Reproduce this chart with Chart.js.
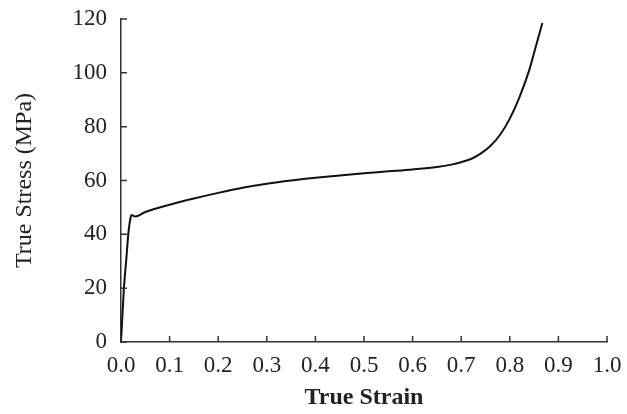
<!DOCTYPE html>
<html>
<head>
<meta charset="utf-8">
<script src="https://cdn.jsdelivr.net/npm/chart.js@4.4.1/dist/chart.umd.min.js"></script>
<style>
  html, body { margin: 0; padding: 0; background: #fff; }
  #box { width: 627px; height: 414px; }
</style>
</head>
<body>
<div id="box"><canvas id="grafico"></canvas></div>
<script>
// datos
const deformacion = [0, 0.006, 0.011, 0.015, 0.019, 0.022, 0.026, 0.029, 0.05, 0.1, 0.15, 0.2, 0.25, 0.3, 0.35, 0.4, 0.45, 0.5, 0.55, 0.6, 0.65, 0.68, 0.7, 0.72, 0.74, 0.76, 0.78, 0.8, 0.82, 0.84, 0.85, 0.867];
const esfuerzo =    [0, 20, 31, 40, 45.5, 47.2, 46.8, 46.6, 48.3, 51, 53.3, 55.4, 57.3, 58.8, 60, 61, 61.9, 62.7, 63.4, 64.1, 65, 65.9, 66.8, 68, 70, 72.8, 77, 83, 91, 101, 107.5, 118.5];

const xTicks = [0, 0.1, 0.2, 0.3, 0.4, 0.5, 0.6, 0.7, 0.8, 0.9, 1.0];
const yTicks = [0, 20, 40, 60, 80, 100, 120];

const puntos = deformacion.map((x, i) => ({ x: x, y: esfuerzo[i] }));

const fuente = "'Liberation Serif', 'DejaVu Serif', serif";
const gris = '#333';

function sinRelleno(s) {
    s.paddingTop = 0; s.paddingBottom = 0; s.paddingLeft = 0; s.paddingRight = 0;
}

// marcas de los ticks hacia dentro del area
const marcasInternas = {
    id: 'marcasInternas',
    afterDraw(c) {
        const g = c.ctx, a = c.chartArea;
        g.save();
        g.strokeStyle = gris;
        g.lineWidth = 1.5;
        g.beginPath();
        xTicks.forEach(v => {
            const px = c.scales.x.getPixelForValue(v);
            g.moveTo(px, a.bottom); g.lineTo(px, a.bottom - 6);
        });
        yTicks.forEach(v => {
            const py = c.scales.y.getPixelForValue(v);
            g.moveTo(a.left, py); g.lineTo(a.left + 6, py);
        });
        g.stroke();
        g.restore();
    }
};

const ctx = document.getElementById('grafico');
const chart = new Chart(ctx, {
    type: 'line',
    data: {
        datasets: [{
            label: 'True Stress',
            data: puntos,
            borderColor: '#111',
            borderWidth: 2,
            pointRadius: 0,
            cubicInterpolationMode: 'monotone',
            fill: false
        }]
    },
    options: {
        responsive: true,
        maintainAspectRatio: false,
        animation: false,
        layout: { padding: { left: 0, right: 20, top: 19, bottom: 0 } },
        plugins: { legend: { display: false }, tooltip: { enabled: false } },
        scales: {
            x: {
                type: 'linear',
                min: 0, max: 1,
                afterBuildTicks: s => { s.ticks = xTicks.map(v => ({ value: v })); },
                afterFit: s => { s.height = 72; sinRelleno(s); },
                border: { display: true, color: gris, width: 1.5 },
                grid: { display: false },
                ticks: {
                    padding: 2,
                    color: '#222',
                    font: { family: fuente, size: 23 },
                    callback: v => v.toFixed(1),
                    maxRotation: 0
                },
                title: {
                    display: true,
                    text: 'True Strain',
                    color: '#222',
                    font: { family: fuente, size: 24, weight: 'bold' },
                    padding: { top: 0, bottom: 2 }
                }
            },
            y: {
                min: 0, max: 120,
                afterBuildTicks: s => { s.ticks = yTicks.map(v => ({ value: v })); },
                afterFit: s => { s.width = 121; sinRelleno(s); },
                border: { display: true, color: gris, width: 1.5 },
                grid: { display: false },
                ticks: {
                    padding: 6,
                    color: '#222',
                    font: { family: fuente, size: 23 }
                },
                title: {
                    display: true,
                    text: 'True Stress (MPa)',
                    color: '#222',
                    font: { family: fuente, size: 24 },
                    padding: { top: 10, bottom: 0 }
                }
            }
        }
    },
    plugins: [marcasInternas]
});
</script>
</body>
</html>
